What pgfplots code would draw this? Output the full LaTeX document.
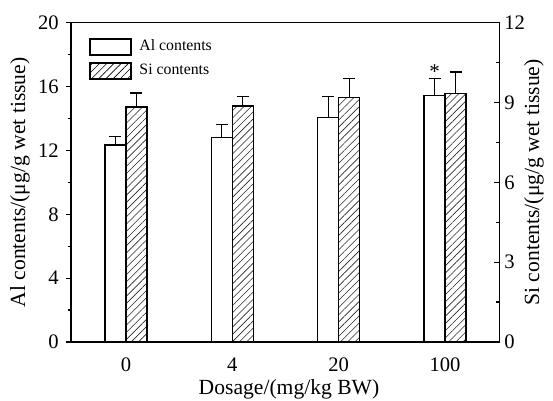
\documentclass[border=0pt]{standalone}
\usepackage{fontspec}
\setmainfont{Liberation Serif}
\usepackage{pgfplots}
\pgfplotsset{compat=1.18}
\usetikzlibrary{patterns.meta}

\pgfplotsset{
  common/.style={
    scale only axis,
    width=214.15pt, height=159.65pt,
    xmin=-0.517, xmax=3.51,
    ybar, bar width=10.5pt,
    axis line style={line width=0.65pt},
    every tick/.style={line width=0.6pt, black},
    major tick length=2.6pt, minor tick length=1.7pt,
    /pgf/number format/assume math mode=true,
    tick label style={font=\fontsize{10.3}{12}\selectfont},
    label style={font=\fontsize{10.8}{13}\selectfont},
    error bars/y dir=plus, error bars/y explicit,
    error bars/error bar style={line width=0.65pt, black},
    error bars/error mark options={rotate=90, mark size=3pt, line width=0.65pt, black},
  },
}

\begin{document}
\begin{tikzpicture}
% Al contents, left axis
\begin{axis}[
  common, name=main,
  ymin=0, ymax=20, ytick={0,4,...,20}, minor y tick num=1,
  ytick pos=left, tick align=outside,
  xtick={0,1,2,3}, xticklabels={0,4,20,100},
  xtick style={draw=none},
  xticklabel style={yshift=-2pt},
  xlabel={Dosage/(mg/kg BW)},
  xlabel style={at={(axis description cs:0.509,-0.149)}, anchor=center},
  ylabel={Al contents/(μg/g wet tissue)},
  ylabel style={at={(axis description cs:-0.119,0.5)}, anchor=center},
  legend style={at={(axis description cs:0.042,0.954)}, anchor=north west,
    draw=none, fill=none, inner sep=0pt, row sep=3.2pt,
    font=\fontsize{7.9}{9}\selectfont,
    nodes={inner sep=1pt},
    /tikz/every odd column/.append style={column sep=2.8pt}},
  legend cell align=left,
  legend image code/.code={\draw[#1, line width=0.75pt] (0pt,-4pt) rectangle (20.5pt,4pt);},
]
\addplot[draw=black, fill=white, line width=0.75pt, bar shift=-5.25pt]
  coordinates {(0,12.34) +- (0,0.52) (1,12.82) +- (0,0.81) (2,14.07) +- (0,1.32) (3,15.43) +- (0,1.09)};
\addlegendentry{Al contents}
\addlegendimage{draw=black, pattern={Lines[angle=45,distance=2.55pt,line width=0.3pt]}}
\addlegendentry{Si contents}
\node[anchor=south, inner sep=0pt, font=\fontsize{10.5}{12}\selectfont] at ([xshift=-5.25pt, yshift=-0.5pt]axis cs:3,16.52) {*};
\end{axis}
% Si contents, right axis
\begin{axis}[
  common,
  ymin=0, ymax=12, ytick={0,3,...,12}, minor y tick num=1,
  axis y line*=right, axis x line=none, tick align=inside,
  yticklabel style={xshift=-1pt},
  ylabel={Si contents/(μg/g wet tissue)},
  ylabel style={at={(axis description cs:1.081,0.5)}, anchor=center, rotate=0},
]
\addplot[draw=black, line width=0.75pt, bar shift=5.25pt,
  pattern={Lines[angle=45,distance=2.55pt,line width=0.3pt]}, pattern color=black!85]
  coordinates {(0,8.84) +- (0,0.52) (1,8.87) +- (0,0.35) (2,9.18) +- (0,0.73) (3,9.33) +- (0,0.82)};
\end{axis}
\pgfresetboundingbox
\path ([shift={(-35.5pt,-29.5pt)}]main.south west) rectangle ([shift={(26.85pt,11.35pt)}]main.north east);
\end{tikzpicture}
\end{document}
